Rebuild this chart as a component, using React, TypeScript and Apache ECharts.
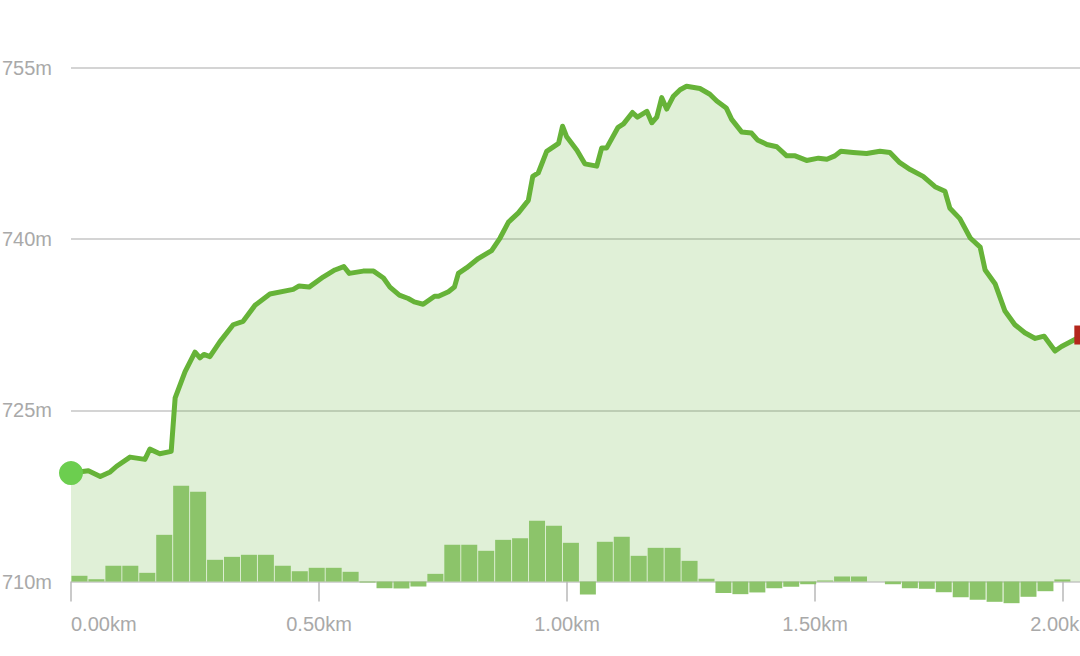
import React, { useEffect, useRef } from "react";
import * as echarts from "echarts";

// Elevation profile (distance in km, elevation in m)
const distanceKm = [
  0, 0.035, 0.059, 0.079, 0.092, 0.119, 0.149, 0.159, 0.179, 0.202,
  0.21, 0.23, 0.25, 0.26, 0.268, 0.28, 0.3, 0.327, 0.347, 0.371,
  0.401, 0.448, 0.46, 0.48, 0.509, 0.532, 0.55, 0.561, 0.589, 0.61,
  0.63, 0.643, 0.662, 0.68, 0.692, 0.71, 0.733, 0.741, 0.761, 0.773,
  0.781, 0.798, 0.821, 0.848, 0.865, 0.882, 0.902, 0.922, 0.931, 0.942,
  0.959, 0.983, 0.991, 0.999, 1.02, 1.036, 1.06, 1.07, 1.08, 1.103,
  1.114, 1.132, 1.142, 1.161, 1.171, 1.181, 1.191, 1.201, 1.214, 1.228,
  1.241, 1.268, 1.288, 1.302, 1.321, 1.332, 1.352, 1.372, 1.384, 1.403,
  1.423, 1.443, 1.46, 1.483, 1.507, 1.524, 1.54, 1.552, 1.577, 1.604,
  1.631, 1.651, 1.671, 1.692, 1.718, 1.742, 1.762, 1.772, 1.792, 1.813,
  1.833, 1.843, 1.863, 1.883, 1.903, 1.923, 1.944, 1.962, 1.984, 1.997,
  2.024, 2.042,
];

const elevationM = [
  719.5, 719.7, 719.2, 719.6, 720.1, 720.9, 720.7, 721.6, 721.2, 721.4,
  726.1, 728.4, 730.1, 729.6, 729.9, 729.7, 731.0, 732.5, 732.8, 734.2,
  735.2, 735.6, 735.9, 735.8, 736.7, 737.3, 737.6, 737.0, 737.2, 737.2,
  736.6, 735.8, 735.1, 734.8, 734.5, 734.3, 735.0, 735.0, 735.4, 735.8,
  737.0, 737.5, 738.3, 739.0, 740.1, 741.5, 742.3, 743.4, 745.5, 745.8,
  747.7, 748.4, 749.9, 749.0, 747.8, 746.6, 746.4, 748.0, 748.0, 749.8,
  750.1, 751.1, 750.7, 751.2, 750.2, 750.7, 752.4, 751.4, 752.5, 753.1,
  753.4, 753.2, 752.7, 752.1, 751.5, 750.5, 749.4, 749.3, 748.7, 748.3,
  748.1, 747.3, 747.3, 746.9, 747.1, 747.0, 747.3, 747.7, 747.6, 747.5,
  747.7, 747.6, 746.7, 746.1, 745.5, 744.6, 744.2, 742.7, 741.8, 740.1,
  739.3, 737.3, 736.1, 733.7, 732.5, 731.8, 731.3, 731.5, 730.2, 730.6,
  731.2, 731.6,
];

// Elevation change per distance bin (60 bins over the route)
const binGainM = [
  0.5, 0.2, 1.38, 1.38, 0.76, 4.09, 8.39, 7.86, 1.9, 2.16,
  2.34, 2.34, 1.38, 0.9, 1.2, 1.2, 0.85, -0.09, -0.59, -0.61,
  -0.44, 0.67, 3.22, 3.22, 2.69, 3.65, 3.79, 5.32, 4.88, 3.39,
  -1.14, 3.48, 3.92, 2.25, 2.95, 2.95, 1.81, 0.24, -1.01, -1.11,
  -0.96, -0.59, -0.46, -0.24, 0.09, 0.44, 0.44, 0.0, -0.24, -0.59,
  -0.64, -0.94, -1.38, -1.6, -1.78, -1.9, -1.34, -0.85, 0.18, 0.0,
];

const routeLengthKm = 2.05;
const elevMin = 710;
const elevMax = 755;
const elevStep = 15;
const distStep = 0.5;

const LINE = "#66b338";
const LABEL = "#a9a9a9";
const GRIDLINE = "#c6c6c6";

export default function App() {
  const ref = useRef<HTMLDivElement>(null);

  useEffect(() => {
    if (!ref.current) return;
    const chart = echarts.init(ref.current, undefined, { renderer: "svg" });
    const profile = distanceKm.map((d, i) => [d, elevationM[i]]);
    const last = profile[profile.length - 1];
    const font = "'Liberation Sans', Arial, Helvetica, sans-serif";

    chart.setOption({
      animation: false,
      textStyle: { fontFamily: font },
      grid: {
        left: 71,
        right: 12.2,
        top: 68,
        bottom: 74.5,
        containLabel: false,
        outerBoundsMode: "none",
      },
      xAxis: [
        {
          type: "value",
          min: 0,
          max: routeLengthKm,
          interval: distStep,
          offset: 2.5,
          axisLine: { show: false },
          axisTick: {
            show: true,
            length: 20,
            lineStyle: { color: "#b8b8b8", width: 1.5 },
          },
          splitLine: { show: false },
          axisLabel: {
            color: LABEL,
            fontSize: 20,
            fontFamily: font,
            margin: 30,
            showMaxLabel: false,
            alignMinLabel: "left",
            formatter: (v: number) => v.toFixed(2) + "km",
          },
        },
        {
          type: "category",
          show: false,
          data: binGainM.map((_, i) => String(i)),
          boundaryGap: true,
        },
      ],
      yAxis: [
        {
          type: "value",
          min: elevMin,
          max: elevMax,
          interval: elevStep,
          axisLine: { show: false },
          axisTick: { show: false },
          splitLine: { show: true, lineStyle: { color: GRIDLINE, width: 1.5 } },
          axisLabel: {
            color: LABEL,
            fontSize: 20,
            fontFamily: font,
            margin: 19,
            formatter: "{value}m",
          },
        },
        {
          type: "value",
          show: false,
          min: 0,
          max: elevMax - elevMin,
          splitLine: { show: false },
        },
      ],
      series: [
        {
          type: "line",
          data: profile,
          xAxisIndex: 0,
          yAxisIndex: 0,
          showSymbol: false,
          symbol: "none",
          lineStyle: { color: LINE, width: 5, cap: "round", join: "round" },
          areaStyle: { color: LINE, opacity: 0.2, origin: "start" },
          z: 2,
        },
        {
          type: "bar",
          data: binGainM,
          xAxisIndex: 1,
          yAxisIndex: 1,
          barWidth: 16,
          clip: false,
          itemStyle: { color: "#8cc46a" },
          z: 3,
        },
        {
          type: "scatter",
          data: [profile[0]],
          symbol: "circle",
          symbolSize: 24,
          itemStyle: { color: "#6cce4f", opacity: 1 },
          z: 5,
        },
        {
          type: "scatter",
          data: [last],
          symbol: "rect",
          symbolSize: 19,
          itemStyle: { color: "#b4261c", opacity: 1 },
          z: 5,
        },
      ],
    });

    return () => chart.dispose();
  }, []);

  return (
    <div
      style={{
        position: "fixed",
        left: 0,
        top: 0,
        width: 1080,
        height: 656,
        overflow: "hidden",
        background: "#fff",
      }}
    >
      <div ref={ref} style={{ width: 1100, height: 656 }} />
    </div>
  );
}
